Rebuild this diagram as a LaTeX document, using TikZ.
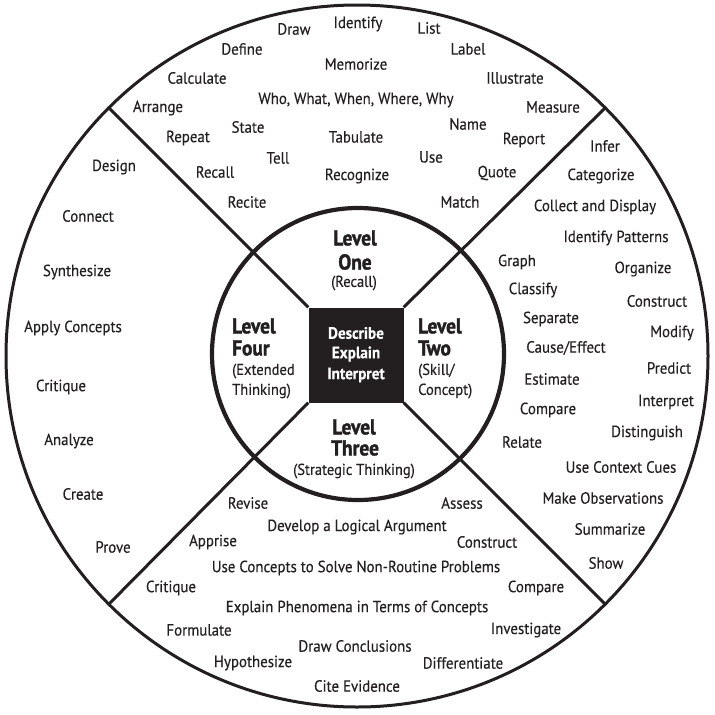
\documentclass[tikz,border=0pt]{standalone}
\usepackage{fontspec}
\setmainfont{PT Sans}
\newfontfamily\wfont[FakeStretch=0.92,FakeBold=0.35]{PT Sans}
\newfontfamily\sfont[FakeStretch=0.92,FakeBold=0.3]{PT Sans}
\newfontfamily\bfont[FakeStretch=0.9,FakeBold=1.6]{PT Sans Bold}
\newfontfamily\cfont[FakeStretch=0.92,FakeBold=0.4]{PT Sans Bold}
\definecolor{ink}{HTML}{231F20}
\tikzset{
  wd/.style={inner sep=0pt, text=ink, font=\wfont\fontsize{16.2}{18}\selectfont},
  lvl/.style={inner sep=0pt, text=ink, font=\bfont\fontsize{21.5}{22}\selectfont},
  sub/.style={inner sep=0pt, text=ink, font=\sfont\fontsize{15.8}{18}\selectfont},
  ctr/.style={inner sep=0pt, text=white, font=\cfont\fontsize{16.5}{18}\selectfont},
  ring/.style={draw=ink, line width=3pt},
  spoke/.style={draw=ink, line width=3pt},
}
\begin{document}
\begin{tikzpicture}[x=1pt,y=-1pt]
\useasboundingbox (0,0) rectangle (715,715);
\coordinate (c) at (357,356);
\coordinate (ic) at (358,354);
\coordinate (o1) at (108.8,107.8);
\coordinate (o2) at (605.2,107.8);
\coordinate (o3) at (605.2,604.2);
\coordinate (o4) at (108.8,604.2);
% rings
\draw[ring] (c) circle[radius=351];
\draw[ring, line width=4.2pt] (ic) circle[radius=146];
% center square
\node[fill=ink, minimum size=95pt, inner sep=0pt] (sq) at (356,355) {};
\draw[spoke] (sq.north west) -- (o1);
\draw[spoke] (sq.north east) -- (o2);
\draw[spoke] (sq.south east) -- (o3);
\draw[spoke] (sq.south west) -- (o4);
\node[ctr] (d1) at (356,333) {Describe};
\node[ctr] (d2) at (356,354) {Explain};
\node[ctr] (d3) at (356,375) {Interpret};
% level labels
\node[lvl] (l1a) at (355,238) {Level};
\node[lvl] (l1b) at (355,262) {One};
\node[sub] (l1c) at (354,283) {(Recall)};
\node[lvl, anchor=west] (l2a) at (418,326) {Level};
\node[lvl, anchor=west] (l2b) at (418,348) {Two};
\node[sub, anchor=west] (l2c) at (418,371) {(Skill/};
\node[sub, anchor=west] (l2d) at (418,391) {Concept)};
\node[lvl] (l3a) at (354,427) {Level};
\node[lvl] (l3b) at (355,448) {Three};
\node[sub] (l3c) at (354,471) {(Strategic Thinking)};
\node[lvl, anchor=west] (l4a) at (232,326) {Level};
\node[lvl, anchor=west] (l4b) at (232,348) {Four};
\node[sub, anchor=west] (l4c) at (232,371) {(Extended};
\node[sub, anchor=west] (l4d) at (232,391) {Thinking)};
% Level One words
\node[wd] (a1) at (294,29) {Draw};
\node[wd] (a2) at (358,24) {Identify};
\node[wd] (a3) at (429,28) {List};
\node[wd] (a4) at (242,49) {Define};
\node[wd] (a5) at (468,49) {Label};
\node[wd] (a6) at (356,64) {Memorize};
\node[wd] (a7) at (197,78) {Calculate};
\node[wd] (a8) at (515,78) {Illustrate};
\node[wd] (a9) at (158,108) {Arrange};
\node[wd] (a10) at (356,100) {Who, What, When, Where, Why};
\node[wd] (a11) at (553,107) {Measure};
\node[wd] (a12) at (468,124) {Name};
\node[wd] (a13) at (248,127) {State};
\node[wd] (a14) at (188,138) {Repeat};
\node[wd] (a15) at (356,137) {Tabulate};
\node[wd] (a16) at (524,140) {Report};
\node[wd] (a17) at (278,158) {Tell};
\node[wd] (a18) at (431,157) {Use};
\node[wd] (a19) at (215,172) {Recall};
\node[wd] (a20) at (357,176) {Recognize};
\node[wd] (a21) at (497,173) {Quote};
\node[wd] (a22) at (247,202) {Recite};
\node[wd] (a23) at (460,202) {Match};
% Level Two words
\node[wd] (b1) at (605,146) {Infer};
\node[wd] (b2) at (601,176) {Categorize};
\node[wd] (b3) at (595,207) {Collect and Display};
\node[wd] (b4) at (616,238) {Identify Patterns};
\node[wd] (b5) at (517,262) {Graph};
\node[wd] (b6) at (643,269) {Organize};
\node[wd] (b7) at (533,290) {Classify};
\node[wd] (b8) at (657,301) {Construct};
\node[wd] (b9) at (551,319) {Separate};
\node[wd] (b10) at (672,333) {Modify};
\node[wd] (b11) at (566,348) {Cause/Effect};
\node[wd] (b12) at (669,368) {Predict};
\node[wd] (b13) at (552,379) {Estimate};
\node[wd] (b14) at (666,402) {Interpret};
\node[wd] (b15) at (548,410) {Compare};
\node[wd] (b16) at (647,433) {Distinguish};
\node[wd] (b17) at (522,442) {Relate};
\node[wd] (b18) at (621,467) {Use Context Cues};
\node[wd] (b19) at (603,498) {Make Observations};
\node[wd] (b20) at (610,529) {Summarize};
\node[wd] (b21) at (606,563) {Show};
% Level Three words
\node[wd] (c1) at (248,503) {Revise};
\node[wd] (c2) at (462,503) {Assess};
\node[wd] (c3) at (357,527) {Develop a Logical Argument};
\node[wd] (c4) at (213,542) {Apprise};
\node[wd] (c5) at (487,542) {Construct};
\node[wd] (c6) at (356,568) {Use Concepts to Solve Non-Routine Problems};
\node[wd] (c7) at (171,588) {Critique};
\node[wd] (c8) at (536,588) {Compare};
\node[wd] (c9) at (357,608) {Explain Phenomena in Terms of Concepts};
\node[wd] (c10) at (199,630) {Formulate};
\node[wd] (c11) at (526,630) {Investigate};
\node[wd] (c12) at (355,646) {Draw Conclusions};
\node[wd] (c13) at (253,663) {Hypothesize};
\node[wd] (c14) at (463,663) {Differentiate};
\node[wd] (c15) at (357,686) {Cite Evidence};
% Level Four words
\node[wd] (e1) at (114,167) {Design};
\node[wd] (e2) at (88,216) {Connect};
\node[wd] (e3) at (77,272) {Synthesize};
\node[wd] (e4) at (73,328) {Apply Concepts};
\node[wd] (e5) at (61,387) {Critique};
\node[wd] (e6) at (69,441) {Analyze};
\node[wd] (e7) at (83,494) {Create};
\node[wd] (e8) at (113,547) {Prove};
\end{tikzpicture}
\end{document}
